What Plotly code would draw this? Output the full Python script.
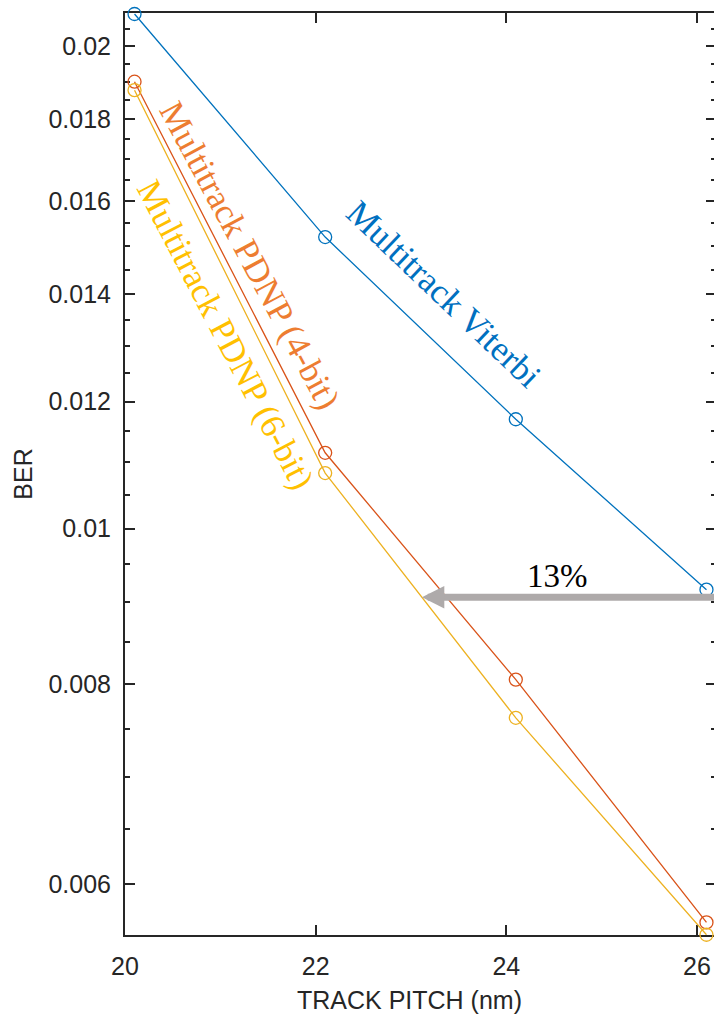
import numpy as np
import plotly.graph_objects as go

# Track pitch (nm) and bit error rates for each detector
track_pitch = [20.1, 22.1, 24.1, 26.1]
ber_viterbi = [0.02094, 0.0152, 0.0117, 0.00916]
ber_pdnp_4bit = [0.0190, 0.01115, 0.00805, 0.00568]
ber_pdnp_6bit = [0.01877, 0.01083, 0.00762, 0.00558]

x_ticks = [20, 22, 24, 26]
y_major = [0.006, 0.008, 0.010, 0.012, 0.014, 0.016, 0.018, 0.020]
y_major_text = ["0.006", "0.008", "0.01", "0.012", "0.014", "0.016", "0.018", "0.02"]
y_minor = [round(v, 4) for v in np.arange(0.0055, 0.02051, 0.0005)
           if all(abs(v - m) > 1e-9 for m in y_major)]

# Arrow showing the 13% track-pitch gain at equal BER
arrow_ber = 0.00906
arrow_head_x = 23.115
arrow_tail_x = 26.2

series = [
    ("Multitrack Viterbi", ber_viterbi, "#0072BD"),
    ("Multitrack PDNP (4-bit)", ber_pdnp_4bit, "#D95319"),
    ("Multitrack PDNP (6-bit)", ber_pdnp_6bit, "#EDB120"),
]

fig = go.Figure()
for name, ys, color in series:
    fig.add_trace(go.Scatter(
        x=track_pitch, y=ys, name=name, mode="lines+markers",
        line=dict(color=color, width=1.3),
        marker=dict(symbol="circle-open", size=13, color=color,
                    line=dict(width=1.3, color=color)),
        cliponaxis=False, showlegend=False,
    ))

serif = "Liberation Serif, Times New Roman, serif"
labels = [
    ("Multitrack Viterbi", 23.345, 0.013993, 43.6, "#0070C0"),
    ("Multitrack PDNP (4-bit)", 21.307, 0.01480, 61.8, "#ED7D31"),
    ("Multitrack PDNP (6-bit)", 21.05, 0.013213, 62.5, "#FFC000"),
]
annotations = []
for text, x, y, ang, col in labels:
    annotations.append(dict(
        x=x, y=np.log10(y), xref="x", yref="y", text=text, showarrow=False,
        textangle=ang, font=dict(family=serif, size=35, color=col),
        xanchor="center", yanchor="middle",
    ))

annotations.append(dict(
    x=arrow_head_x, y=np.log10(arrow_ber), xref="x", yref="y",
    ax=arrow_tail_x, ay=np.log10(arrow_ber), axref="x", ayref="y",
    text="", showarrow=True, arrowhead=2, arrowsize=0.64, arrowwidth=7,
    arrowcolor="#AEAAAA",
))
annotations.append(dict(
    x=24.54, y=np.log10(0.00934), xref="x", yref="y", text="13%",
    showarrow=False, font=dict(family=serif, size=33, color="black"),
    xanchor="center", yanchor="middle",
))

axis_color = "#262626"
sans = "Liberation Sans, Arial, sans-serif"

# x-axis title placed as a paper annotation
annotations.append(dict(
    x=0.4806, y=0, xref="paper", yref="paper", yshift=-65,
    text="TRACK PITCH (nm)", showarrow=False,
    font=dict(family=sans, size=25, color=axis_color),
    xanchor="center", yanchor="middle",
))

fig.update_layout(
    width=722, height=1017,
    margin=dict(l=125, r=4, t=13, b=82),
    plot_bgcolor="white", paper_bgcolor="white",
    annotations=annotations,
    font=dict(family=sans, size=25, color=axis_color),
)
fig.update_xaxes(
    range=[20, 26.2], tickvals=x_ticks, ticktext=[str(v) for v in x_ticks],
    ticks="inside", ticklen=10, tickwidth=2, tickcolor=axis_color,
    showline=True, linewidth=2, linecolor=axis_color, mirror="allticks",
    showgrid=False, zeroline=False, ticklabelstandoff=8,
    tickfont=dict(size=25, color=axis_color), layer="below traces",
)
fig.update_yaxes(
    type="log", range=[np.log10(0.005578), np.log10(0.02097)],
    tickvals=y_major, ticktext=y_major_text,
    ticks="inside", ticklen=10, tickwidth=2, tickcolor=axis_color,
    minor=dict(tickvals=y_minor, ticks="inside", ticklen=5, tickwidth=2,
               tickcolor=axis_color, showgrid=False),
    showline=True, linewidth=2, linecolor=axis_color, mirror="allticks",
    showgrid=False, zeroline=False, ticklabelstandoff=7,
    tickfont=dict(size=25, color=axis_color), layer="below traces",
    title=dict(text="BER", standoff=9, font=dict(size=25, color=axis_color)),
)

fig.write_html("out.html",
               post_script="document.documentElement.style.overflow='hidden';"
                           "document.body.style.overflow='hidden';")
